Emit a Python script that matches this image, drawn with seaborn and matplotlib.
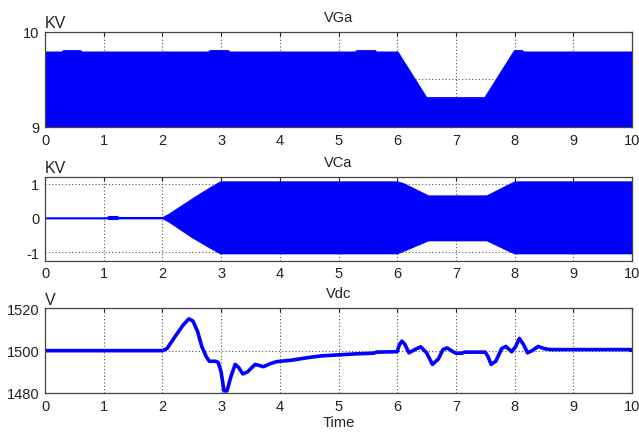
import numpy as np
import pandas as pd
import matplotlib
matplotlib.use("Agg")
import matplotlib.pyplot as plt
import seaborn as sns

sns.set_style("white")
plt.rcParams['font.family'] = ['Liberation Sans', 'DejaVu Sans']

# ---- VGa envelope (KV) ----
vga_t = [0, 0.28, 0.30, 0.60, 0.63, 2.78, 2.80, 3.12, 3.15, 5.28, 5.30, 5.62, 5.65,
         6.01, 6.50, 7.48, 7.98, 8.00, 8.13, 8.15, 10]
vga_top = [9.80, 9.80, 9.815, 9.815, 9.80, 9.80, 9.815, 9.815, 9.80, 9.80, 9.815, 9.815, 9.80,
           9.80, 9.32, 9.32, 9.81, 9.815, 9.815, 9.80, 9.80]

# ---- VCa envelope (KV) ----
vca_t = [0, 1.05, 1.08, 1.22, 1.26, 2.0, 2.1, 2.5, 2.8, 2.98, 6.0, 6.1, 6.53, 7.52, 7.9, 8.0, 10]
vca_upper = [0.03, 0.03, 0.07, 0.07, 0.04, 0.04, 0.13, 0.58, 0.9, 1.08, 1.08, 1.03, 0.67, 0.67, 1.0, 1.08, 1.08]
vca_lower = [-0.03, -0.03, -0.05, -0.05, -0.03, -0.03, -0.12, -0.58, -0.88, -1.05, -1.05, -0.98, -0.67, -0.67, -0.98, -1.05, -1.05]

# ---- Vdc (V) ----
vdc_t = [0, 2.0, 2.08, 2.2, 2.35, 2.45, 2.52, 2.6, 2.67, 2.75, 2.8, 2.9, 2.95, 3.0, 3.05, 3.1,
         3.17, 3.24, 3.3, 3.37, 3.45, 3.58, 3.65, 3.72, 3.85, 3.95, 4.2, 4.5, 4.7, 5.0, 5.3, 5.6,
         5.65, 6.0, 6.04, 6.08, 6.13, 6.2, 6.3, 6.4, 6.5, 6.6, 6.7, 6.78, 6.85, 6.95, 7.0, 7.1,
         7.15, 7.5, 7.55, 7.6, 7.68, 7.78, 7.85, 7.95, 8.02, 8.08, 8.15, 8.22, 8.3, 8.4, 8.5,
         8.6, 9.0, 10]
vdc_v = [1500, 1500, 1501, 1506, 1512, 1515, 1514, 1509, 1502, 1497, 1495, 1495, 1494.5, 1490, 1481, 1481,
         1488, 1493.5, 1492, 1489, 1490, 1493.5, 1493, 1492.4, 1494, 1494.8, 1495.5, 1496.8, 1497.5, 1498, 1498.5, 1498.8,
         1499.3, 1499.5, 1503, 1504.5, 1503, 1499, 1500.5, 1501.8, 1499, 1493.5, 1496, 1500.5, 1501.3, 1499.5, 1498.8, 1498.8,
         1499.3, 1499.3, 1497, 1493.5, 1495, 1501, 1502, 1499.5, 1502, 1505.8, 1503, 1499, 1500, 1502, 1501,
         1500.5, 1500.5, 1500.5]

BLUE = "#0000ff"
fig = plt.figure(figsize=(6.39, 4.35), dpi=100)
left, width = 45 / 639, (632 - 45) / 639
ax1 = fig.add_axes([left, 1 - 128 / 435, width, 95 / 435])
ax2 = fig.add_axes([left, 1 - 261.7 / 435, width, 84 / 435])
ax3 = fig.add_axes([left, 1 - 394 / 435, width, 84.7 / 435])

ax1.fill_between(vga_t, [8.0] * len(vga_t), vga_top, color=BLUE, lw=0, zorder=3)
ax1.set_ylim(9, 10)
ax1.set_yticks([9, 9.5, 10])
ax1.set_yticklabels(["9", "", "10"])

ax2.fill_between(vca_t, vca_lower, vca_upper, color=BLUE, lw=0, zorder=3)
ax2.set_ylim(-1.25, 1.2)
ax2.set_yticks([-1, 0, 1])
ax2.set_yticklabels(["-1", "0", "1"])

df = pd.DataFrame({"Time": vdc_t, "Vdc": vdc_v})
sns.lineplot(data=df, x="Time", y="Vdc", ax=ax3, color=BLUE, lw=2.6, zorder=3)
ax3.set_ylim(1480, 1520)
ax3.set_yticks([1480, 1500, 1520])

for ax, title, unit in [(ax1, "VGa", "KV"), (ax2, "VCa", "KV"), (ax3, "Vdc", "V")]:
    ax.set_xlim(0, 10)
    ax.set_xticks(range(0, 11))
    ax.grid(True, ls=(0, (1, 2)), color="#555555", lw=0.8, zorder=1)
    ax.tick_params(direction="in", top=True, right=True, length=3, labelsize=10.5,
                   colors="#222222", pad=4, width=0.8)
    for s in ax.spines.values():
        s.set_color("#444444")
        s.set_linewidth(0.9)
        s.set_zorder(4)
    ax.set_title(title, fontsize=10.5, pad=8, color="#222222")
    ax.text(0.0, 1.02, unit, transform=ax.transAxes, ha="left", va="bottom",
            fontsize=11.5, color="#222222")
    ax.set_xlabel("")
    ax.set_ylabel("")

ax3.set_xlabel("Time", fontsize=10.5, labelpad=2, color="#222222")

fig.savefig("out.png", dpi=100)
